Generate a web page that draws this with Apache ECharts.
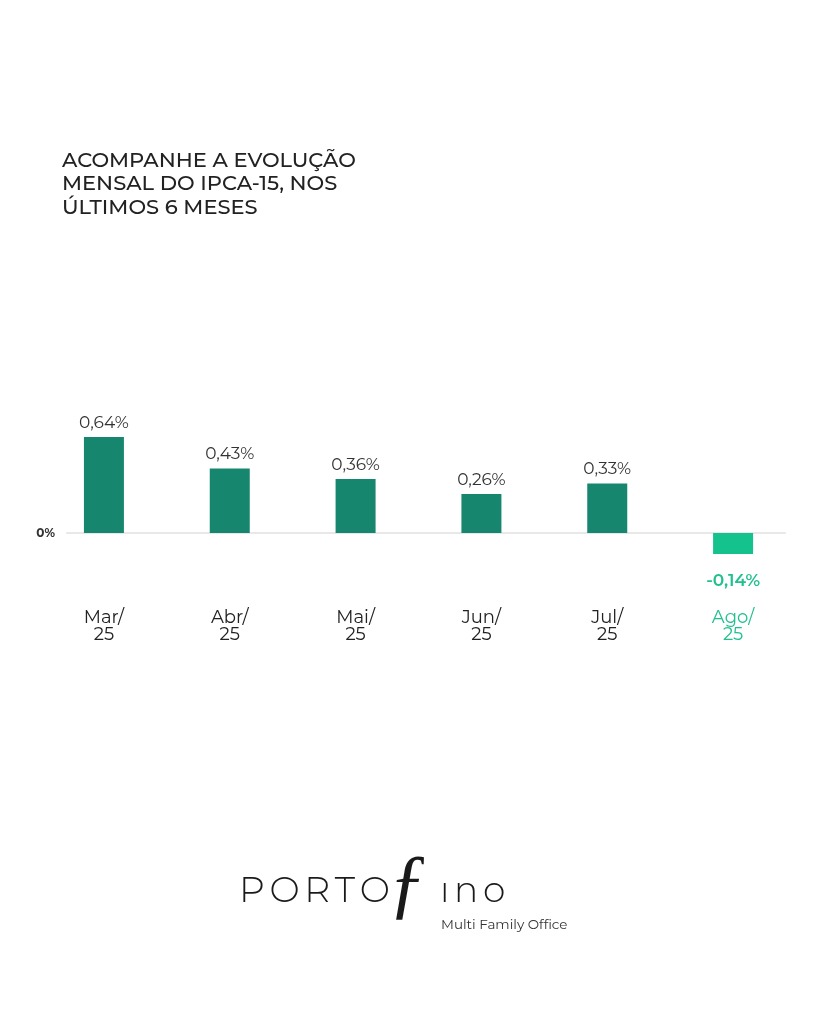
<!DOCTYPE html>
<html>
<head>
<meta charset="utf-8">
<script src="https://cdn.jsdelivr.net/npm/echarts@6/dist/echarts.min.js"></script>
<style>
html,body{margin:0;padding:0;background:#fff;}
#chart{width:819px;height:1024px;}
</style>
</head>
<body>
<div id="chart"></div>
<script>
var categories = ['Mar/\n25', 'Abr/\n25', 'Mai/\n25', 'Jun/\n25', 'Jul/\n25', 'Ago/\n25'];
var values = [0.64, 0.43, 0.36, 0.26, 0.33, -0.14];
var titleLines = ['ACOMPANHE A EVOLUÇÃO', 'MENSAL DO IPCA-15, NOS', 'ÚLTIMOS 6 MESES'];

var positiveColor = '#17866f';
var negativeColor = '#14c28e';
var negativeText = '#22c08f';
var fontFam = 'Montserrat, "DejaVu Sans", "Noto Sans", sans-serif';

function fmt(v) { return v.toFixed(2).replace('.', ',') + '%'; }

var seriesData = values.map(function (v) {
  return {
    value: v,
    itemStyle: { color: v < 0 ? negativeColor : positiveColor },
    label: v < 0 ? {
      position: 'bottom', distance: 18, color: negativeText, fontWeight: 600
    } : {
      position: 'top', distance: 6, color: '#333333', fontWeight: 'normal'
    }
  };
});

var yMin = -0.4, yMax = 1.0, yStep = 0.2;

var chart = echarts.init(document.getElementById('chart'), null, { renderer: 'canvas' });
chart.setOption({
  backgroundColor: '#ffffff',
  animation: false,
  title: {
    text: titleLines.join('\n'),
    left: 57,
    top: 144,
    textStyle: {
      fontFamily: fontFam,
      fontSize: 21,
      fontWeight: 500,
      lineHeight: 23.5,
      color: '#222222'
    }
  },
  grid: [
    { left: 41, right: 23, top: 383, bottom: 431, containLabel: false },
    { left: 67, right: 34, top: 383, bottom: 431, containLabel: false }
  ],
  xAxis: [
    {
      type: 'category',
      gridIndex: 0,
      data: categories,
      axisLine: { show: false },
      axisTick: { show: false },
      axisLabel: {
        margin: 16,
        fontFamily: fontFam,
        fontSize: 18,
        lineHeight: 17,
        color: function (val, idx) { return values[idx] < 0 ? negativeText : '#222222'; }
      }
    },
    {
      type: 'category',
      gridIndex: 1,
      data: categories,
      axisLine: { show: true, onZero: true, lineStyle: { color: '#e8e8e8', width: 2 } },
      axisTick: { show: false },
      axisLabel: { show: false },
      z: 1
    }
  ],
  yAxis: [
    {
      type: 'value',
      gridIndex: 0,
      min: yMin,
      max: yMax,
      interval: yStep,
      axisLine: { show: false },
      axisTick: { show: false },
      splitLine: { show: false },
      axisLabel: {
        margin: -14,
        fontFamily: fontFam,
        fontSize: 12,
        fontWeight: 'bold',
        color: '#333333',
        formatter: function (v) { return Math.abs(v) < 1e-9 ? '0%' : ''; }
      }
    },
    {
      type: 'value',
      gridIndex: 1,
      min: yMin,
      max: yMax,
      interval: yStep,
      axisLine: { show: false },
      axisTick: { show: false },
      splitLine: { show: false },
      axisLabel: { show: false }
    }
  ],
  series: [{
    type: 'bar',
    xAxisIndex: 0,
    yAxisIndex: 0,
    data: seriesData,
    barWidth: 40,
    z: 3,
    label: {
      show: true,
      fontFamily: fontFam,
      fontSize: 17,
      formatter: function (p) { return fmt(p.value); }
    }
  }],
  graphic: [
    {
      type: 'text',
      left: 239,
      top: 873,
      style: {
        text: 'P\u2009O\u2009R\u2009T\u2009O',
        font: '300 36px ' + fontFam,
        fill: '#1a1a1a'
      }
    },
    {
      type: 'text',
      left: 388,
      top: 848,
      style: {
        text: 'ƒ',
        font: 'italic 78px "Liberation Serif", serif',
        fill: '#1a1a1a'
      }
    },
    {
      type: 'text',
      left: 440,
      top: 873,
      style: {
        text: 'ı\u2009n\u2009o',
        font: '300 36px ' + fontFam,
        fill: '#1a1a1a'
      }
    },
    {
      type: 'text',
      left: 441,
      top: 918,
      style: {
        text: 'Multi Family Office',
        font: '13.5px ' + fontFam,
        fill: '#333333'
      }
    }
  ]
});
</script>
</body>
</html>
